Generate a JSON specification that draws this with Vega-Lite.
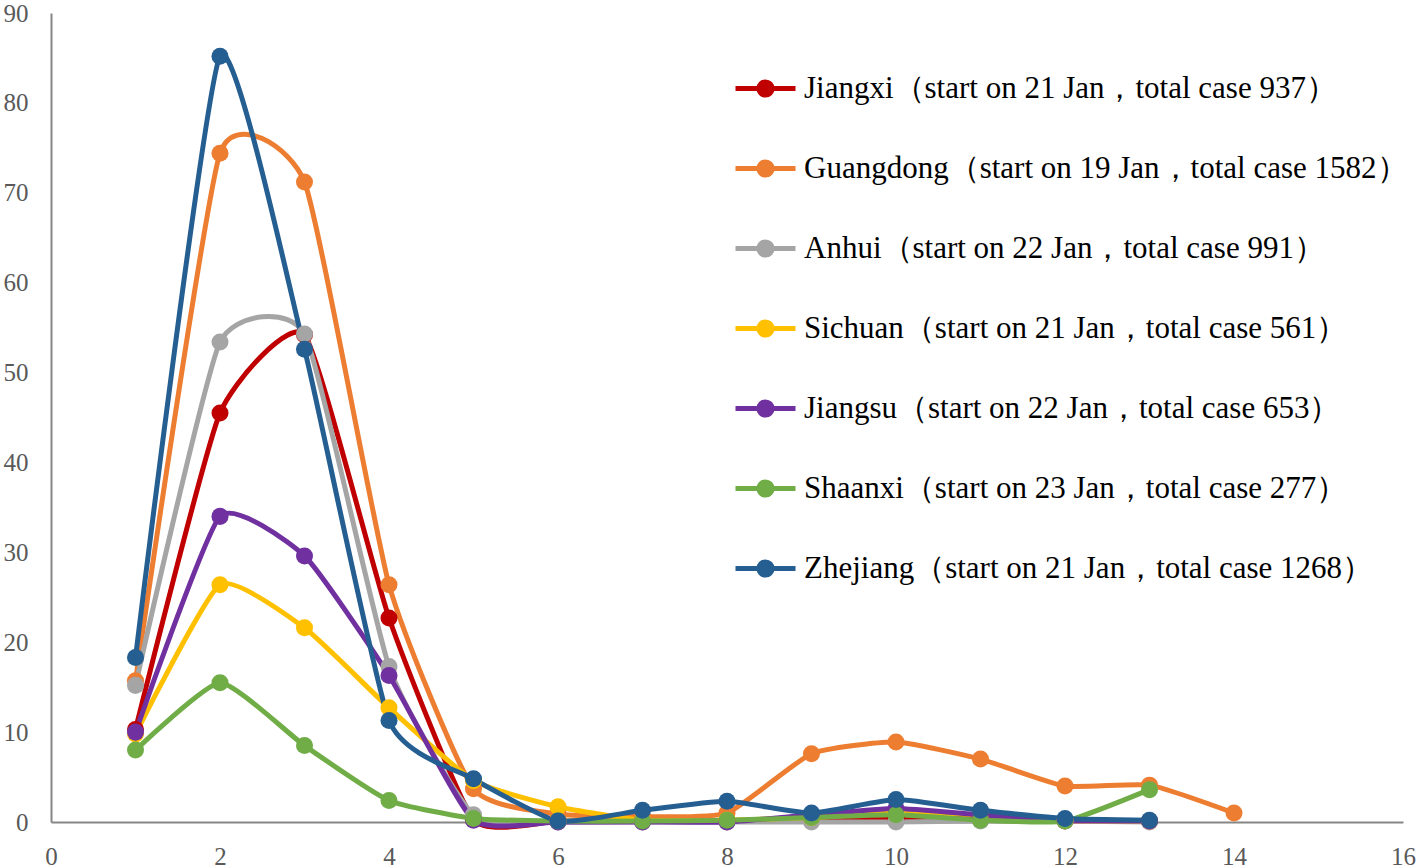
{
  "$schema": "https://vega.github.io/schema/vega-lite/v6.json",
  "width": 1352,
  "height": 809,
  "autosize": {"type": "none"},
  "padding": {"left": 51, "top": 13, "right": 15, "bottom": 46},
  "background": "white",
  "config": {
    "view": {"stroke": null},
    "font": "Times New Roman, Liberation Serif, serif"
  },
  "data": {
    "values": [
      {"s": "Jiangxi（start on 21 Jan，total case 937）", "x": 1, "y": 10.3},
      {"s": "Jiangxi（start on 21 Jan，total case 937）", "x": 2, "y": 45.5},
      {"s": "Jiangxi（start on 21 Jan，total case 937）", "x": 3, "y": 54.2},
      {"s": "Jiangxi（start on 21 Jan，total case 937）", "x": 4, "y": 22.7},
      {"s": "Jiangxi（start on 21 Jan，total case 937）", "x": 5, "y": 0.3},
      {"s": "Jiangxi（start on 21 Jan，total case 937）", "x": 6, "y": 0.1},
      {"s": "Jiangxi（start on 21 Jan，total case 937）", "x": 7, "y": 0.1},
      {"s": "Jiangxi（start on 21 Jan，total case 937）", "x": 8, "y": 0.1},
      {"s": "Jiangxi（start on 21 Jan，total case 937）", "x": 9, "y": 0.4},
      {"s": "Jiangxi（start on 21 Jan，total case 937）", "x": 10, "y": 0.4},
      {"s": "Jiangxi（start on 21 Jan，total case 937）", "x": 11, "y": 0.4},
      {"s": "Jiangxi（start on 21 Jan，total case 937）", "x": 12, "y": 0.1},
      {"s": "Jiangxi（start on 21 Jan，total case 937）", "x": 13, "y": 0.1},
      {"s": "Guangdong（start on 19 Jan，total case 1582）", "x": 1, "y": 15.7},
      {"s": "Guangdong（start on 19 Jan，total case 1582）", "x": 2, "y": 74.4},
      {"s": "Guangdong（start on 19 Jan，total case 1582）", "x": 3, "y": 71.2},
      {"s": "Guangdong（start on 19 Jan，total case 1582）", "x": 4, "y": 26.4},
      {"s": "Guangdong（start on 19 Jan，total case 1582）", "x": 5, "y": 3.7},
      {"s": "Guangdong（start on 19 Jan，total case 1582）", "x": 6, "y": 0.9},
      {"s": "Guangdong（start on 19 Jan，total case 1582）", "x": 7, "y": 0.6},
      {"s": "Guangdong（start on 19 Jan，total case 1582）", "x": 8, "y": 1.0},
      {"s": "Guangdong（start on 19 Jan，total case 1582）", "x": 9, "y": 7.6},
      {"s": "Guangdong（start on 19 Jan，total case 1582）", "x": 10, "y": 8.9},
      {"s": "Guangdong（start on 19 Jan，total case 1582）", "x": 11, "y": 7.0},
      {"s": "Guangdong（start on 19 Jan，total case 1582）", "x": 12, "y": 4.0},
      {"s": "Guangdong（start on 19 Jan，total case 1582）", "x": 13, "y": 4.1},
      {"s": "Guangdong（start on 19 Jan，total case 1582）", "x": 14, "y": 1.0},
      {"s": "Anhui（start on 22 Jan，total case 991）", "x": 1, "y": 15.2},
      {"s": "Anhui（start on 22 Jan，total case 991）", "x": 2, "y": 53.4},
      {"s": "Anhui（start on 22 Jan，total case 991）", "x": 3, "y": 54.3},
      {"s": "Anhui（start on 22 Jan，total case 991）", "x": 4, "y": 17.3},
      {"s": "Anhui（start on 22 Jan，total case 991）", "x": 5, "y": 0.8},
      {"s": "Anhui（start on 22 Jan，total case 991）", "x": 6, "y": 0.0},
      {"s": "Anhui（start on 22 Jan，total case 991）", "x": 7, "y": 0.0},
      {"s": "Anhui（start on 22 Jan，total case 991）", "x": 8, "y": 0.0},
      {"s": "Anhui（start on 22 Jan，total case 991）", "x": 9, "y": 0.0},
      {"s": "Anhui（start on 22 Jan，total case 991）", "x": 10, "y": 0.0},
      {"s": "Anhui（start on 22 Jan，total case 991）", "x": 11, "y": 0.1},
      {"s": "Anhui（start on 22 Jan，total case 991）", "x": 12, "y": 0.1},
      {"s": "Anhui（start on 22 Jan，total case 991）", "x": 13, "y": 0.0},
      {"s": "Sichuan（start on 21 Jan，total case 561）", "x": 1, "y": 9.8},
      {"s": "Sichuan（start on 21 Jan，total case 561）", "x": 2, "y": 26.4},
      {"s": "Sichuan（start on 21 Jan，total case 561）", "x": 3, "y": 21.6},
      {"s": "Sichuan（start on 21 Jan，total case 561）", "x": 4, "y": 12.7},
      {"s": "Sichuan（start on 21 Jan，total case 561）", "x": 5, "y": 4.6},
      {"s": "Sichuan（start on 21 Jan，total case 561）", "x": 6, "y": 1.7},
      {"s": "Sichuan（start on 21 Jan，total case 561）", "x": 7, "y": 0.2},
      {"s": "Sichuan（start on 21 Jan，total case 561）", "x": 8, "y": 0.2},
      {"s": "Sichuan（start on 21 Jan，total case 561）", "x": 9, "y": 0.5},
      {"s": "Sichuan（start on 21 Jan，total case 561）", "x": 10, "y": 1.0},
      {"s": "Sichuan（start on 21 Jan，total case 561）", "x": 11, "y": 0.8},
      {"s": "Sichuan（start on 21 Jan，total case 561）", "x": 12, "y": 0.2},
      {"s": "Sichuan（start on 21 Jan，total case 561）", "x": 13, "y": 0.1},
      {"s": "Jiangsu（start on 22 Jan，total case 653）", "x": 1, "y": 10.0},
      {"s": "Jiangsu（start on 22 Jan，total case 653）", "x": 2, "y": 34.0},
      {"s": "Jiangsu（start on 22 Jan，total case 653）", "x": 3, "y": 29.6},
      {"s": "Jiangsu（start on 22 Jan，total case 653）", "x": 4, "y": 16.3},
      {"s": "Jiangsu（start on 22 Jan，total case 653）", "x": 5, "y": 0.2},
      {"s": "Jiangsu（start on 22 Jan，total case 653）", "x": 6, "y": 0.0},
      {"s": "Jiangsu（start on 22 Jan，total case 653）", "x": 7, "y": 0.0},
      {"s": "Jiangsu（start on 22 Jan，total case 653）", "x": 8, "y": 0.0},
      {"s": "Jiangsu（start on 22 Jan，total case 653）", "x": 9, "y": 0.8},
      {"s": "Jiangsu（start on 22 Jan，total case 653）", "x": 10, "y": 1.5},
      {"s": "Jiangsu（start on 22 Jan，total case 653）", "x": 11, "y": 0.8},
      {"s": "Jiangsu（start on 22 Jan，total case 653）", "x": 12, "y": 0.2},
      {"s": "Jiangsu（start on 22 Jan，total case 653）", "x": 13, "y": 0.1},
      {"s": "Shaanxi（start on 23 Jan，total case 277）", "x": 1, "y": 8.0},
      {"s": "Shaanxi（start on 23 Jan，total case 277）", "x": 2, "y": 15.5},
      {"s": "Shaanxi（start on 23 Jan，total case 277）", "x": 3, "y": 8.5},
      {"s": "Shaanxi（start on 23 Jan，total case 277）", "x": 4, "y": 2.4},
      {"s": "Shaanxi（start on 23 Jan，total case 277）", "x": 5, "y": 0.4},
      {"s": "Shaanxi（start on 23 Jan，total case 277）", "x": 6, "y": 0.1},
      {"s": "Shaanxi（start on 23 Jan，total case 277）", "x": 7, "y": 0.1},
      {"s": "Shaanxi（start on 23 Jan，total case 277）", "x": 8, "y": 0.2},
      {"s": "Shaanxi（start on 23 Jan，total case 277）", "x": 9, "y": 0.5},
      {"s": "Shaanxi（start on 23 Jan，total case 277）", "x": 10, "y": 0.8},
      {"s": "Shaanxi（start on 23 Jan，total case 277）", "x": 11, "y": 0.2},
      {"s": "Shaanxi（start on 23 Jan，total case 277）", "x": 12, "y": 0.1},
      {"s": "Shaanxi（start on 23 Jan，total case 277）", "x": 13, "y": 3.6},
      {"s": "Zhejiang（start on 21 Jan，total case 1268）", "x": 1, "y": 18.3},
      {"s": "Zhejiang（start on 21 Jan，total case 1268）", "x": 2, "y": 85.2},
      {"s": "Zhejiang（start on 21 Jan，total case 1268）", "x": 3, "y": 52.6},
      {"s": "Zhejiang（start on 21 Jan，total case 1268）", "x": 4, "y": 11.3},
      {"s": "Zhejiang（start on 21 Jan，total case 1268）", "x": 5, "y": 4.8},
      {"s": "Zhejiang（start on 21 Jan，total case 1268）", "x": 6, "y": 0.1},
      {"s": "Zhejiang（start on 21 Jan，total case 1268）", "x": 7, "y": 1.3},
      {"s": "Zhejiang（start on 21 Jan，total case 1268）", "x": 8, "y": 2.3},
      {"s": "Zhejiang（start on 21 Jan，total case 1268）", "x": 9, "y": 1.0},
      {"s": "Zhejiang（start on 21 Jan，total case 1268）", "x": 10, "y": 2.5},
      {"s": "Zhejiang（start on 21 Jan，total case 1268）", "x": 11, "y": 1.3},
      {"s": "Zhejiang（start on 21 Jan，total case 1268）", "x": 12, "y": 0.4},
      {"s": "Zhejiang（start on 21 Jan，total case 1268）", "x": 13, "y": 0.2}
    ]
  },
  "encoding": {
    "x": {
      "field": "x", "type": "quantitative",
      "scale": {"domain": [0, 16], "nice": false, "zero": true},
      "axis": {
        "title": null, "values": [0, 2, 4, 6, 8, 10, 12, 14, 16],
        "grid": false, "ticks": false,
        "domainColor": "#868686", "domainWidth": 2,
        "labelColor": "#595959", "labelFontSize": 25, "labelFont": "Times New Roman, Liberation Serif, serif",
        "labelPadding": 22, "labelFlush": false
      }
    },
    "y": {
      "field": "y", "type": "quantitative",
      "scale": {"domain": [0, 90], "nice": false},
      "axis": {
        "title": null, "values": [0, 10, 20, 30, 40, 50, 60, 70, 80, 90],
        "grid": false, "ticks": false,
        "domainColor": "#868686", "domainWidth": 2,
        "labelColor": "#595959", "labelFontSize": 25, "labelFont": "Times New Roman, Liberation Serif, serif",
        "labelPadding": 23, "labelFlush": false
      }
    },
    "color": {
      "field": "s", "type": "nominal",
      "scale": {
        "domain": [
          "Jiangxi（start on 21 Jan，total case 937）",
          "Guangdong（start on 19 Jan，total case 1582）",
          "Anhui（start on 22 Jan，total case 991）",
          "Sichuan（start on 21 Jan，total case 561）",
          "Jiangsu（start on 22 Jan，total case 653）",
          "Shaanxi（start on 23 Jan，total case 277）",
          "Zhejiang（start on 21 Jan，total case 1268）"
        ],
        "range": ["#C00000", "#ED7D31", "#A5A5A5", "#FFC000", "#7030A0", "#70AD47", "#255E91"]
      },
      "legend": {
        "title": null,
        "orient": "none",
        "legendX": 682,
        "legendY": 43,
        "padding": 0,
        "symbolType": "M-1,0L1,0M0.22,0A0.22,0.22,0,1,1,-0.22,0A0.22,0.22,0,1,1,0.22,0Z",
        "symbolSize": 3600,
        "symbolStrokeWidth": 5,
        "labelFont": "Times New Roman, Liberation Serif, serif",
        "labelFontSize": 31,
        "labelColor": "#000000",
        "labelLimit": 1000,
        "labelOffset": 6,
        "rowPadding": 30,
        "encode": {
          "symbols": {"update": {"fill": {"scale": "color", "field": "value"}, "fillOpacity": {"value": 1}, "opacity": {"value": 1}}}
        }
      }
    }
  },
  "layer": [
    {
      "mark": {"type": "line", "interpolate": "cardinal", "tension": 0.5, "strokeWidth": 5}
    },
    {
      "mark": {"type": "point", "filled": true, "size": 290, "opacity": 1}
    }
  ]
}
